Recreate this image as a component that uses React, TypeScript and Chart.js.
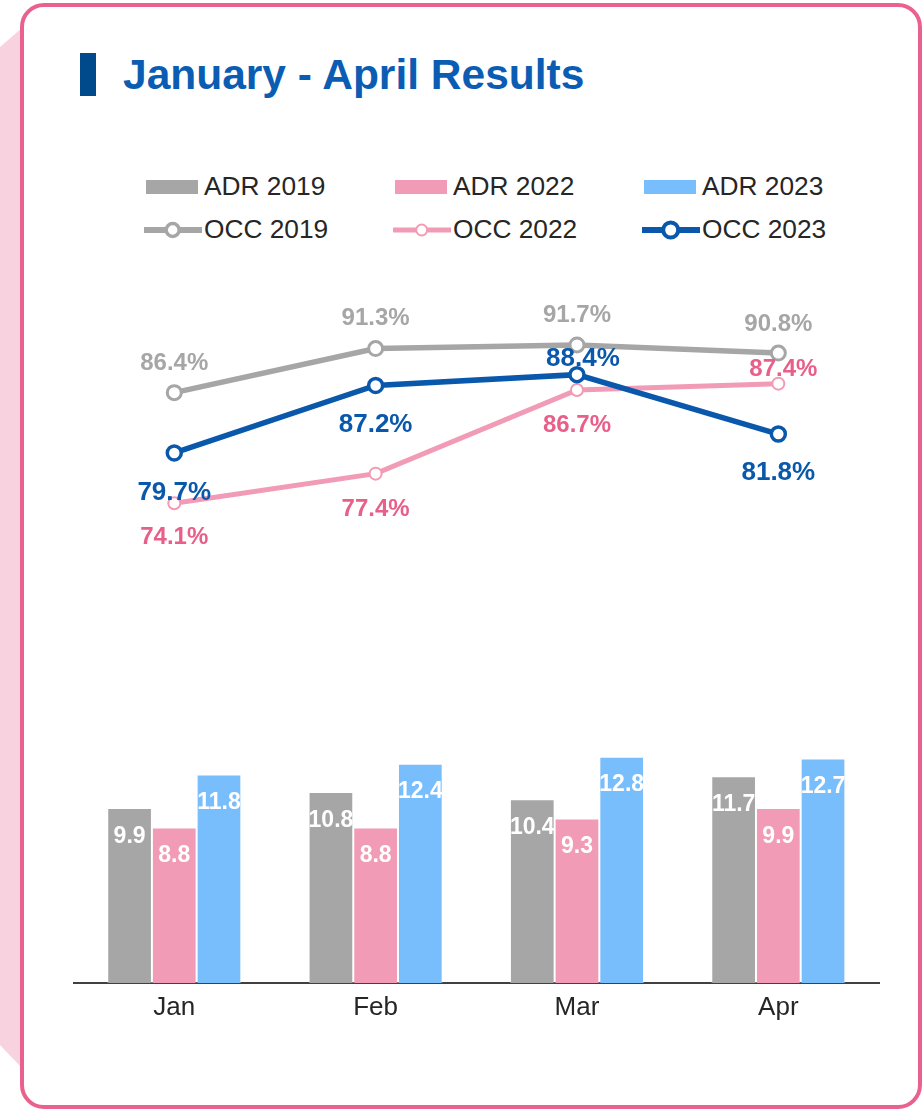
import React, { useEffect, useRef } from "react";
import { Chart, registerables } from "chart.js";

Chart.register(...registerables);

// ---- Data ----
const months = ["Jan", "Feb", "Mar", "Apr"];
const adr2019 = [9.9, 10.8, 10.4, 11.7];
const adr2022 = [8.8, 8.8, 9.3, 9.9];
const adr2023 = [11.8, 12.4, 12.8, 12.7];
const occ2019 = [86.4, 91.3, 91.7, 90.8];
const occ2022 = [74.1, 77.4, 86.7, 87.4];
const occ2023 = [79.7, 87.2, 88.4, 81.8];

// ---- Styles ----
const FONT = "'Liberation Sans', Arial, Helvetica, sans-serif";
const C_GRAY = "#a6a6a6";
const C_PINK_BAR = "#f29bb6";
const C_BLUE_BAR = "#78bdfc";
const C_PINK_LINE = "#f29bb6";
const C_PINK_TEXT = "#e8608a";
const C_BLUE_LINE = "#0a58ab";
const C_TEXT = "#262626";

// label offsets (pixels, relative to the point / bar top) — styling only
const barLabelDy = [34.5, 34.5, 34.5, 34.5];
const occ2019Dy = [-23, -24, -22.5, -22.5];
const occ2022Dy = [41, 42, 42, -7.5];
const occ2022Dx = [0, 0, 0, 5];
const occ2023Dy = [47, 47, -9, 46];
const occ2023Dx = [0, 0, 6, 0];

const labelPlugin = {
  id: "valueLabels",
  afterDatasetsDraw(chart: any) {
    const ctx = chart.ctx;
    chart.data.datasets.forEach((ds: any, di: number) => {
      const st = ds.labelStyle;
      if (!st) return;
      const meta = chart.getDatasetMeta(di);
      ctx.save();
      ctx.font = st.font;
      ctx.fillStyle = st.color;
      ctx.textAlign = "center";
      ctx.textBaseline = "alphabetic";
      meta.data.forEach((el: any, i: number) => {
        const v = ds.data[i];
        const text = st.fmt(v);
        const dx = st.dx ? st.dx[i] : 0;
        const dy = st.dy[i];
        ctx.fillText(text, el.x + dx, el.y + dy);
      });
      ctx.restore();
    });
  },
};

const legendItems = [
  { label: "ADR 2019", kind: "bar", color: C_GRAY, col: 0, row: 0 },
  { label: "ADR 2022", kind: "bar", color: C_PINK_BAR, col: 1, row: 0 },
  { label: "ADR 2023", kind: "bar", color: C_BLUE_BAR, col: 2, row: 0 },
  { label: "OCC 2019", kind: "line", color: C_GRAY, col: 0, row: 1, lw: 6, r: 6.5, bw: 3.5 },
  { label: "OCC 2022", kind: "line", color: C_PINK_LINE, col: 1, row: 1, lw: 5, r: 5.5, bw: 2 },
  { label: "OCC 2023", kind: "line", color: C_BLUE_LINE, col: 2, row: 1, lw: 6, r: 7.5, bw: 4 },
];

function LegendMarker({ item }: { item: any }) {
  if (item.kind === "bar") {
    return (
      <svg width={58} height={44} style={{ position: "absolute", left: 0, top: 0 }}>
        <rect x={0} y={7} width={52} height={14} fill={item.color} />
      </svg>
    );
  }
  return (
    <svg width={58} height={44} style={{ position: "absolute", left: -2, top: 0 }}>
      <line x1={1} y1={14} x2={57} y2={14} stroke={item.color} strokeWidth={item.lw} strokeLinecap="round" />
      <circle cx={28.7} cy={14} r={item.r} fill="#fff" stroke={item.color} strokeWidth={item.bw} />
    </svg>
  );
}

export default function App() {
  const canvasRef = useRef<HTMLCanvasElement | null>(null);

  useEffect(() => {
    const canvas = canvasRef.current;
    if (!canvas) return;
    const chart = new Chart(canvas, {
      type: "bar",
      data: {
        labels: months,
        datasets: [
          {
            type: "line",
            label: "OCC 2019",
            data: occ2019,
            yAxisID: "y1",
            borderColor: C_GRAY,
            borderWidth: 5.5,
            pointRadius: 7,
            pointBorderWidth: 3,
            pointBackgroundColor: "#fff",
            pointBorderColor: C_GRAY,
            tension: 0,
            order: 1,
            labelStyle: { font: `bold 24px ${FONT}`, color: C_GRAY, dy: occ2019Dy, fmt: (v: number) => v.toFixed(1) + "%" },
          } as any,
          {
            type: "line",
            label: "OCC 2022",
            data: occ2022,
            yAxisID: "y1",
            borderColor: C_PINK_LINE,
            borderWidth: 5,
            pointRadius: 6,
            pointBorderWidth: 2,
            pointBackgroundColor: "#fff",
            pointBorderColor: C_PINK_LINE,
            tension: 0,
            order: 2,
            labelStyle: { font: `bold 24px ${FONT}`, color: C_PINK_TEXT, dy: occ2022Dy, dx: occ2022Dx, fmt: (v: number) => v.toFixed(1) + "%" },
          } as any,
          {
            type: "line",
            label: "OCC 2023",
            data: occ2023,
            yAxisID: "y1",
            borderColor: C_BLUE_LINE,
            borderWidth: 5.5,
            pointRadius: 7,
            pointBorderWidth: 3.5,
            pointBackgroundColor: "#fff",
            pointBorderColor: C_BLUE_LINE,
            tension: 0,
            order: 0,
            labelStyle: { font: `bold 26px ${FONT}`, color: C_BLUE_LINE, dy: occ2023Dy, dx: occ2023Dx, fmt: (v: number) => v.toFixed(1) + "%" },
          } as any,
          {
            type: "bar",
            label: "ADR 2019",
            data: adr2019,
            yAxisID: "y",
            backgroundColor: C_GRAY,
            borderColor: "rgba(255,255,255,0.35)",
            borderWidth: 1,
            order: 5,
            labelStyle: { font: `bold 23px ${FONT}`, color: "#ffffff", dy: barLabelDy, fmt: (v: number) => v.toFixed(1) },
          } as any,
          {
            type: "bar",
            label: "ADR 2022",
            data: adr2022,
            yAxisID: "y",
            backgroundColor: C_PINK_BAR,
            borderColor: "rgba(255,255,255,0.35)",
            borderWidth: 1,
            order: 5,
            labelStyle: { font: `bold 23px ${FONT}`, color: "#ffffff", dy: barLabelDy, fmt: (v: number) => v.toFixed(1) },
          } as any,
          {
            type: "bar",
            label: "ADR 2023",
            data: adr2023,
            yAxisID: "y",
            backgroundColor: C_BLUE_BAR,
            borderColor: "rgba(255,255,255,0.35)",
            borderWidth: 1,
            order: 5,
            labelStyle: { font: `bold 23px ${FONT}`, color: "#ffffff", dy: barLabelDy, fmt: (v: number) => v.toFixed(1) },
          } as any,
        ],
      },
      options: {
        responsive: false,
        animation: false,
        devicePixelRatio: 1,
        datasets: { bar: { categoryPercentage: 0.666, barPercentage: 1 } },
        layout: { padding: { left: 73.6, right: 43, top: 20, bottom: 0 } },
        plugins: { legend: { display: false }, tooltip: { enabled: false } },
        scales: {
          x: {
            grid: { display: false, drawTicks: false },
            border: { display: true, color: "#404040", width: 2 },
            ticks: { color: C_TEXT, font: { family: FONT, size: 26 }, padding: 9 },
            afterFit: (s: any) => {
              s.height = 50;
            },
          },
          y: { display: false, min: 0, max: 40 },
          y1: { display: false, min: 20.8, max: 99.36 },
        },
      } as any,
      plugins: [labelPlugin],
    });
    return () => chart.destroy();
  }, []);

  return (
    <div style={{ position: "absolute", left: 0, top: 0, width: 922, height: 1109, overflow: "hidden", background: "#fff", fontFamily: FONT }}>
      <svg width={30} height={1109} style={{ position: "absolute", left: 0, top: 0 }}>
        <polygon points="22,28 0,47 0,1045 22,1068" fill="#f8d2de" />
      </svg>
      <div
        style={{
          position: "absolute",
          left: 20,
          top: 3,
          width: 902,
          height: 1106,
          boxSizing: "border-box",
          border: "4.5px solid #e9618c",
          borderRadius: 24,
          background: "#fff",
        }}
      />
      <div style={{ position: "absolute", left: 80, top: 53, width: 16, height: 43, background: "#004a8b" }} />
      <div
        style={{
          position: "absolute",
          left: 123,
          top: 54,
          fontSize: 42.5,
          lineHeight: "42px",
          fontWeight: "bold",
          color: "#0b5db3",
          whiteSpace: "nowrap",
        }}
      >
        January - April Results
      </div>
      {legendItems.map((it) => (
        <div key={it.label} style={{ position: "absolute", left: 146 + it.col * 249, top: 173 + it.row * 43, height: 44, width: 240 }}>
          <LegendMarker item={it} />
          <div style={{ position: "absolute", left: 58, top: 0, fontSize: 26.3, lineHeight: "26px", color: C_TEXT, whiteSpace: "nowrap" }}>
            {it.label}
          </div>
        </div>
      ))}
      <canvas
        ref={canvasRef}
        width={922}
        height={777}
        style={{ position: "absolute", left: 0, top: 256, width: 922, height: 777 }}
      />
    </div>
  );
}
